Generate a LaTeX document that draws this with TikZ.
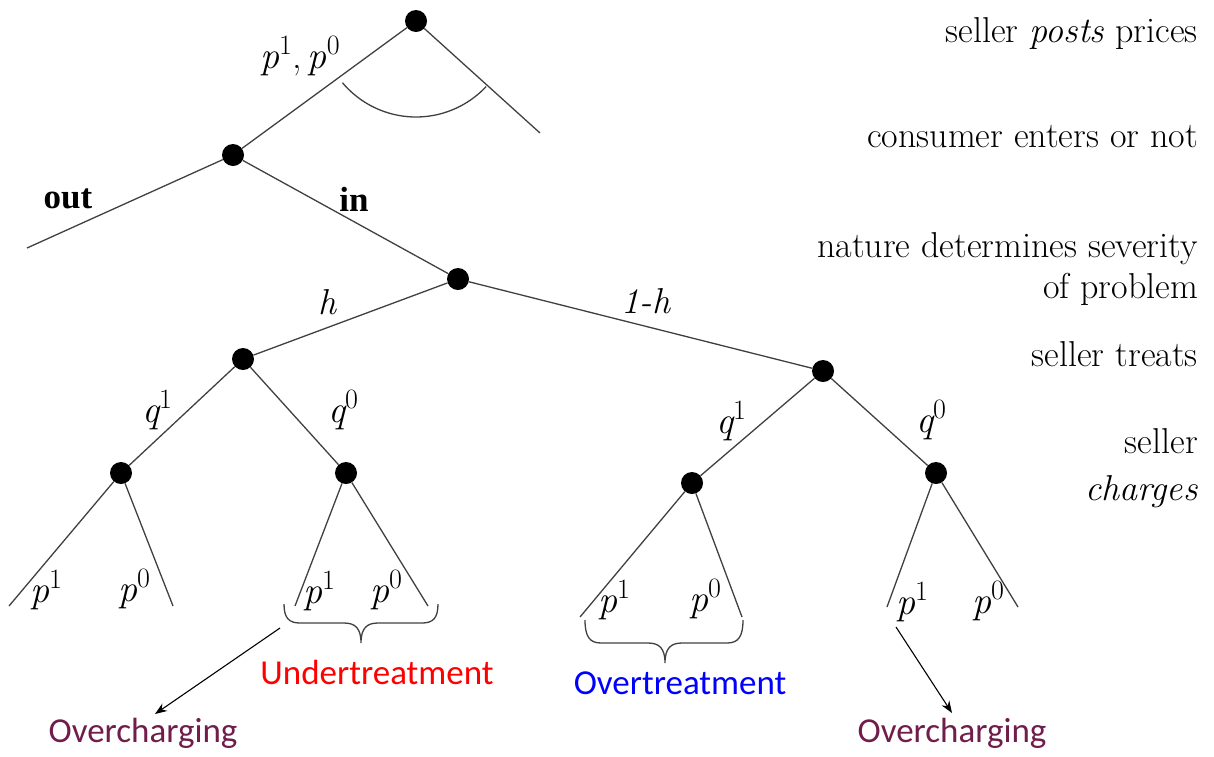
\documentclass[tikz,border=0pt]{standalone}
\usepackage{fontspec}
\newfontfamily\calibri{Carlito}
\newfontfamily\libserif{Liberation Serif}
\newfontfamily\lmfont{Latin Modern Roman}
\newcommand\vsup[2]{{\lmfont\itshape #1}\raisebox{0.36em}{\lmfont\fontsize{28}{30}\selectfont #2}}
\usetikzlibrary{arrows.meta}
\definecolor{overc}{HTML}{701D4C}
\begin{document}
\begin{tikzpicture}[x=1pt,y=-1pt,
  dot/.style={circle,fill=black,inner sep=0pt,minimum size=22pt},
  br/.style={draw=black!75,line width=1.3pt},
  lbl/.style={font=\fontsize{38}{42}\selectfont,inner sep=0pt},
  wlbl/.style={font=\lmfont\fontsize{36}{40}\selectfont,inner sep=0pt},
  bl/.style={font=\libserif\bfseries\fontsize{35}{40}\selectfont,inner sep=0pt},
  stage/.style={anchor=base east,inner sep=0pt,font=\lmfont\fontsize{36}{42}\selectfont},
  tag/.style={inner sep=0pt,font=\calibri\fontsize{35}{40}\selectfont},
  arr/.style={draw=black,line width=1.1pt,-{Stealth[length=12pt,width=9pt]}},
  brace/.style={draw=black!75,line width=1.3pt}
]
\useasboundingbox (0,0) rectangle (1214,756);

% decision nodes
\node[dot] (root) at (416,21) {};
\node[dot] (cons) at (233,155) {};
\node[dot] (nat)  at (458,279) {};
\node[dot] (tl)   at (243,359) {};
\node[dot] (tr)   at (823,371) {};
\node[dot] (cll)  at (121,473) {};
\node[dot] (clr)  at (346,473) {};
\node[dot] (crl)  at (692,483) {};
\node[dot] (crr)  at (936,473) {};

% terminal points
\coordinate (rootR) at (540,133);
\coordinate (outE)  at (27,248);
\coordinate (ll1) at (9,606);
\coordinate (ll0) at (173,606);
\coordinate (lr1) at (295,606);
\coordinate (lr0) at (428,606);
\coordinate (rl1) at (580,617);
\coordinate (rl0) at (742,617);
\coordinate (rr1) at (887,607);
\coordinate (rr0) at (1018,607);

% branches
\draw[br] (root) -- (cons);
\draw[br] (root) -- (rootR);
\draw[br] (cons) -- (outE);
\draw[br] (cons) -- (nat);
\draw[br] (nat) -- (tl);
\draw[br] (nat) -- (tr);
\draw[br] (tl) -- (cll);
\draw[br] (tl) -- (clr);
\draw[br] (tr) -- (crl);
\draw[br] (tr) -- (crr);
\draw[br] (cll) -- (ll1);
\draw[br] (cll) -- (ll0);
\draw[br] (clr) -- (lr1);
\draw[br] (clr) -- (lr0);
\draw[br] (crl) -- (rl1);
\draw[br] (crl) -- (rl0);
\draw[br] (crr) -- (rr1);
\draw[br] (crr) -- (rr0);

% information arc
\draw[br] plot[domain=43:140,samples=40,smooth] ({416+96*cos(\x)},{21+96*sin(\x)});

% branch labels
\node[lbl] (lp) at (300,56) {\vsup{p}{1}{\lmfont ,\,}\vsup{p}{0}};
\node[bl] (lout) at (68,199) {out};
\node[bl] (lin) at (354,199) {in};
\node[wlbl] (lh) at (327,302) {\itshape h};
\node[wlbl] (l1h) at (646,301) {\itshape 1-h};
\node[lbl] (q1l) at (157,410) {\vsup{q}{1}};
\node[lbl] (q0l) at (343,410) {\vsup{q}{0}};
\node[lbl] (q1r) at (731,421) {\vsup{q}{1}};
\node[lbl] (q0r) at (931,420) {\vsup{q}{0}};
\node[lbl] (p1a) at (46,590) {\vsup{p}{1}};
\node[lbl] (p0a) at (134,589) {\vsup{p}{0}};
\node[lbl] (p1b) at (319,591) {\vsup{p}{1}};
\node[lbl] (p0b) at (386,590) {\vsup{p}{0}};
\node[lbl] (p1c) at (614,600) {\vsup{p}{1}};
\node[lbl] (p0c) at (705,599) {\vsup{p}{0}};
\node[lbl] (p1d) at (912,602) {\vsup{p}{1}};
\node[lbl] (p0d) at (988,601) {\vsup{p}{0}};

% stage descriptions
\node[stage] (s1) at (1198,42) {seller \textit{posts} prices};
\node[stage] (s2) at (1198,147) {consumer enters or not};
\node[stage] (s3) at (1198,257) {nature determines severity};
\node[stage] (s3b) at (1198,298) {of problem};
\node[stage] (s4) at (1198,366) {seller treats};
\node[stage] (s5) at (1198,453) {seller};
\node[stage] (s5b) at (1198,500) {\textit{charges}};

% braces
\draw[brace] (284,604) .. controls (284,618) and (289,623) .. (300,623) -- (344,623)
  .. controls (355,623) and (361,628) .. (361,643)
  .. controls (361,628) and (367,623) .. (378,623) -- (422,623)
  .. controls (433,623) and (438,618) .. (438,604);
\draw[brace] (585,620) .. controls (585,637) and (590,643) .. (601,643) -- (648,643)
  .. controls (659,643) and (665,648) .. (665,663)
  .. controls (665,648) and (671,643) .. (682,643) -- (727,643)
  .. controls (738,643) and (743,637) .. (743,620);

% outcome tags
\node[tag,text=red] (under) at (377,672) {Undertreatment};
\node[tag,text=blue] (over) at (680,683) {Overtreatment};
\node[tag,text=overc] (ocl) at (143,733) {Overcharging};
\node[tag,text=overc] (ocr) at (952,733) {Overcharging};

% arrows
\coordinate (a1s) at (280,628);
\coordinate (a1e) at (155,714);
\coordinate (a2s) at (896,627);
\coordinate (a2e) at (952,713);
\draw[arr] (a1s) -- (a1e);
\draw[arr] (a2s) -- (a2e);
\end{tikzpicture}
\end{document}
